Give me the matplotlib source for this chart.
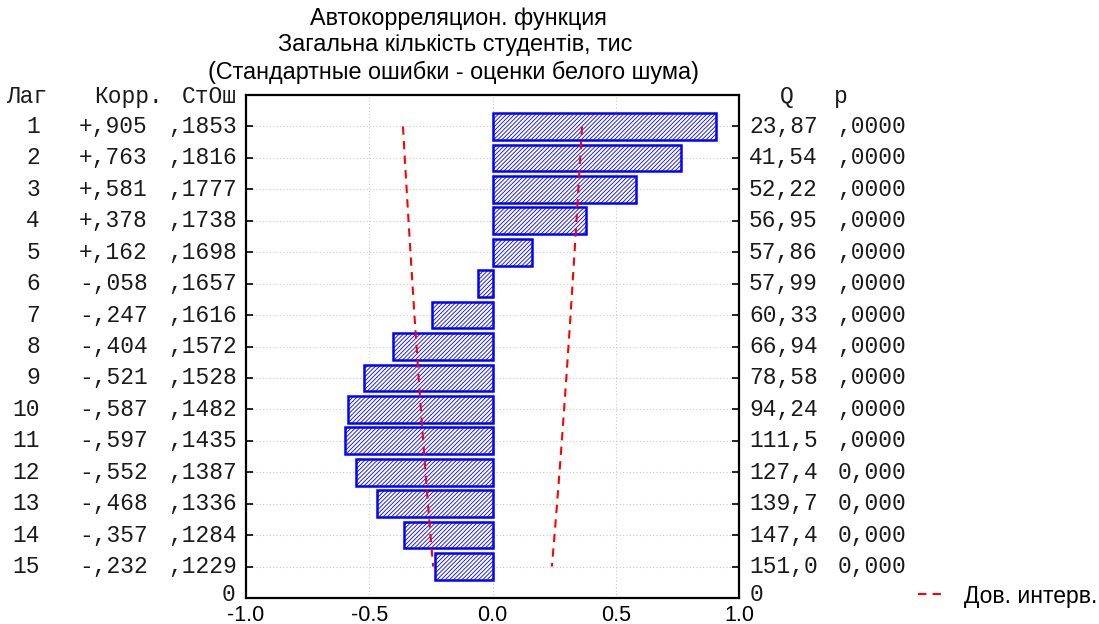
import numpy as np
import matplotlib as mpl
import matplotlib.pyplot as plt
from matplotlib.transforms import blended_transform_factory

lags = list(range(1, 16))
corr = [0.905, 0.763, 0.581, 0.378, 0.162, -0.058, -0.247, -0.404, -0.521,
        -0.587, -0.597, -0.552, -0.468, -0.357, -0.232]
corr_txt = ["+,905", "+,763", "+,581", "+,378", "+,162", "-,058", "-,247", "-,404",
            "-,521", "-,587", "-,597", "-,552", "-,468", "-,357", "-,232"]
se = [0.1853, 0.1816, 0.1777, 0.1738, 0.1698, 0.1657, 0.1616, 0.1572, 0.1528,
      0.1482, 0.1435, 0.1387, 0.1336, 0.1284, 0.1229]
se_txt = [",1853", ",1816", ",1777", ",1738", ",1698", ",1657", ",1616", ",1572",
          ",1528", ",1482", ",1435", ",1387", ",1336", ",1284", ",1229"]
q_txt = ["23,87", "41,54", "52,22", "56,95", "57,86", "57,99", "60,33", "66,94",
         "78,58", "94,24", "111,5", "127,4", "139,7", "147,4", "151,0"]
p_txt = [",0000"] * 11 + ["0,000"] * 4
xticks = [-1.0, -0.5, 0.0, 0.5, 1.0]

mpl.rcParams["hatch.color"] = "#3c3cff"
mpl.rcParams["hatch.linewidth"] = 0.6

W, H = 1099, 624
fig = plt.figure(figsize=(W / 100, H / 100), dpi=100)
ax = fig.add_axes([246 / W, 26 / H, 493 / W, 503 / H])

ax.barh(lags, corr, height=0.85, left=0, color="white", edgecolor="#0000ff",
        linewidth=1.8, hatch="////////", zorder=3)

# 95% white-noise band
ci = 1.96 * np.array(se)
ax.plot(ci, lags, color="#ff0000", ls=(0, (4, 3)), lw=1.5, zorder=4)
ax.plot(-ci, lags, color="#ff0000", ls=(0, (4, 3)), lw=1.5, zorder=4,
        label="Дов. интерв.")

ax.set_xlim(-1, 1)
ax.set_ylim(16, 0)
ax.set_xticks(xticks)
ax.set_xticklabels([f"{v:.1f}" for v in xticks], family="Liberation Sans", fontsize=15.5)
ax.set_yticks(lags)
ax.set_yticklabels([])
ax.tick_params(axis="y", which="both", direction="in", length=5, width=1.2,
               left=True, right=True)
ax.tick_params(axis="x", direction="in", length=0, pad=5)
ax.grid(True, color="#c8c8c8", ls=(0, (1, 2)), lw=0.8, zorder=0)
for s in ax.spines.values():
    s.set_linewidth(1.6)

mono = dict(family="Liberation Mono", fontsize=16.5, color="#1a1a1a", va="center")
tr = blended_transform_factory(fig.transFigure, ax.transData)
px = lambda x: x / W

for i, lag in enumerate(lags):
    ax.text(px(40), lag, str(lag), transform=tr, ha="right", clip_on=False, **mono)
    ax.text(px(79), lag, corr_txt[i], transform=tr, ha="left", clip_on=False, **mono)
    ax.text(px(237), lag, se_txt[i], transform=tr, ha="right", clip_on=False, **mono)
    ax.text(px(749), lag, q_txt[i], transform=tr, ha="left", clip_on=False, **mono)
    ax.text(px(906), lag, p_txt[i], transform=tr, ha="right", clip_on=False, **mono)

hdr_y = 0.05
ax.text(px(6), hdr_y, "Лаг", transform=tr, ha="left", clip_on=False, **mono)
ax.text(px(94), hdr_y, "Корр.", transform=tr, ha="left", clip_on=False, **mono)
ax.text(px(237), hdr_y, "СтОш", transform=tr, ha="right", clip_on=False, **mono)
ax.text(px(787), hdr_y, "Q", transform=tr, ha="center", clip_on=False, **mono)
ax.text(px(841), hdr_y, "p", transform=tr, ha="center", clip_on=False, **mono)
ax.text(px(235), 15.88, "0", transform=tr, ha="right", clip_on=False, **mono)
ax.text(px(750), 15.88, "0", transform=tr, ha="left", clip_on=False, **mono)

title_kw = dict(ha="center", va="center", family="Liberation Sans", fontsize=16.8)
fig.text(px(458), 1 - 18 / H, "Автокорреляцион. функция", **title_kw)
fig.text(px(455), 1 - 45 / H, "Загальна кількість студентів, тис", **title_kw)
fig.text(px(454), 1 - 72 / H, "(Стандартные ошибки - оценки белого шума)", **title_kw)

fig.legend(loc="center left", bbox_to_anchor=(px(918), 1 - 596 / H), frameon=False,
           borderpad=0, borderaxespad=0, handlelength=1.25, handletextpad=0.75,
           prop=dict(family="Liberation Sans", size=16.5))

fig.savefig("out.png", dpi=100)
